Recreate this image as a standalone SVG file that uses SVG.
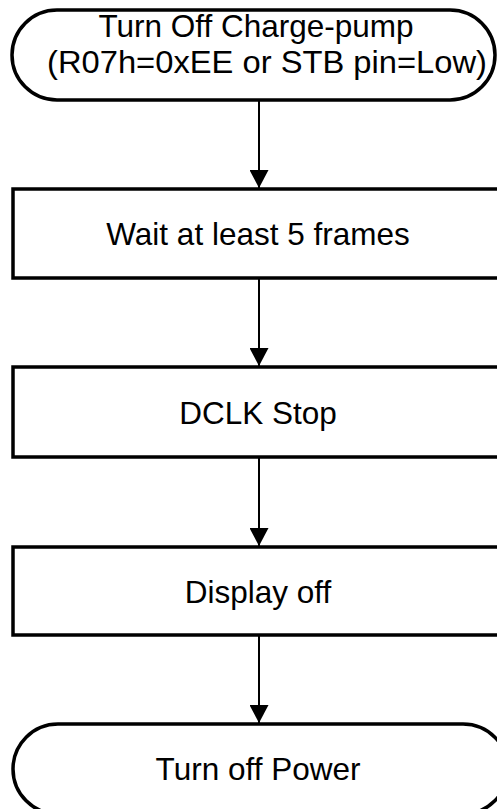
<svg xmlns="http://www.w3.org/2000/svg" width="497" height="809" viewBox="0 0 497 809">
<style>
.shape{fill:#fff;stroke:#000;stroke-width:3.5}
.lbl{font-family:"Liberation Sans",Arial,sans-serif;font-size:31.5px;fill:#000;text-anchor:middle}
.conn{stroke:#000;stroke-width:2;fill:none}
</style>
<defs>
<marker id="arr" markerUnits="userSpaceOnUse" markerWidth="18" markerHeight="19" viewBox="0 0 18 19" refX="18" refY="9.5" orient="auto">
<path d="M0,0 L18,9.5 L0,19 Z" fill="#000"/>
</marker>
</defs>
<rect width="497" height="809" fill="#fff"/>
<g id="connectors">
<line class="conn" x1="259" y1="100" x2="259" y2="188" marker-end="url(#arr)"/>
<line class="conn" x1="259" y1="278" x2="259" y2="366" marker-end="url(#arr)"/>
<line class="conn" x1="259" y1="457" x2="259" y2="546" marker-end="url(#arr)"/>
<line class="conn" x1="259" y1="635" x2="259" y2="723" marker-end="url(#arr)"/>
</g>
<g id="n1">
<rect class="shape" x="12" y="10" width="483" height="90" rx="45" ry="45"/>
<text class="lbl" x="256" y="37">Turn Off Charge-pump</text>
<text class="lbl" x="267" y="73" textLength="440" lengthAdjust="spacingAndGlyphs">(R07h=0xEE or STB pin=Low)</text>
</g>
<g id="n2">
<rect class="shape" x="13" y="189" width="500" height="89"/>
<text class="lbl" x="258" y="245">Wait at least 5 frames</text>
</g>
<g id="n3">
<rect class="shape" x="13" y="367" width="500" height="90"/>
<text class="lbl" x="258" y="424">DCLK Stop</text>
</g>
<g id="n4">
<rect class="shape" x="13" y="547" width="500" height="88"/>
<text class="lbl" x="258" y="603">Display off</text>
</g>
<g id="n5">
<rect class="shape" x="13" y="724" width="495" height="90" rx="45" ry="45"/>
<text class="lbl" x="258" y="780">Turn off Power</text>
</g>
</svg>
